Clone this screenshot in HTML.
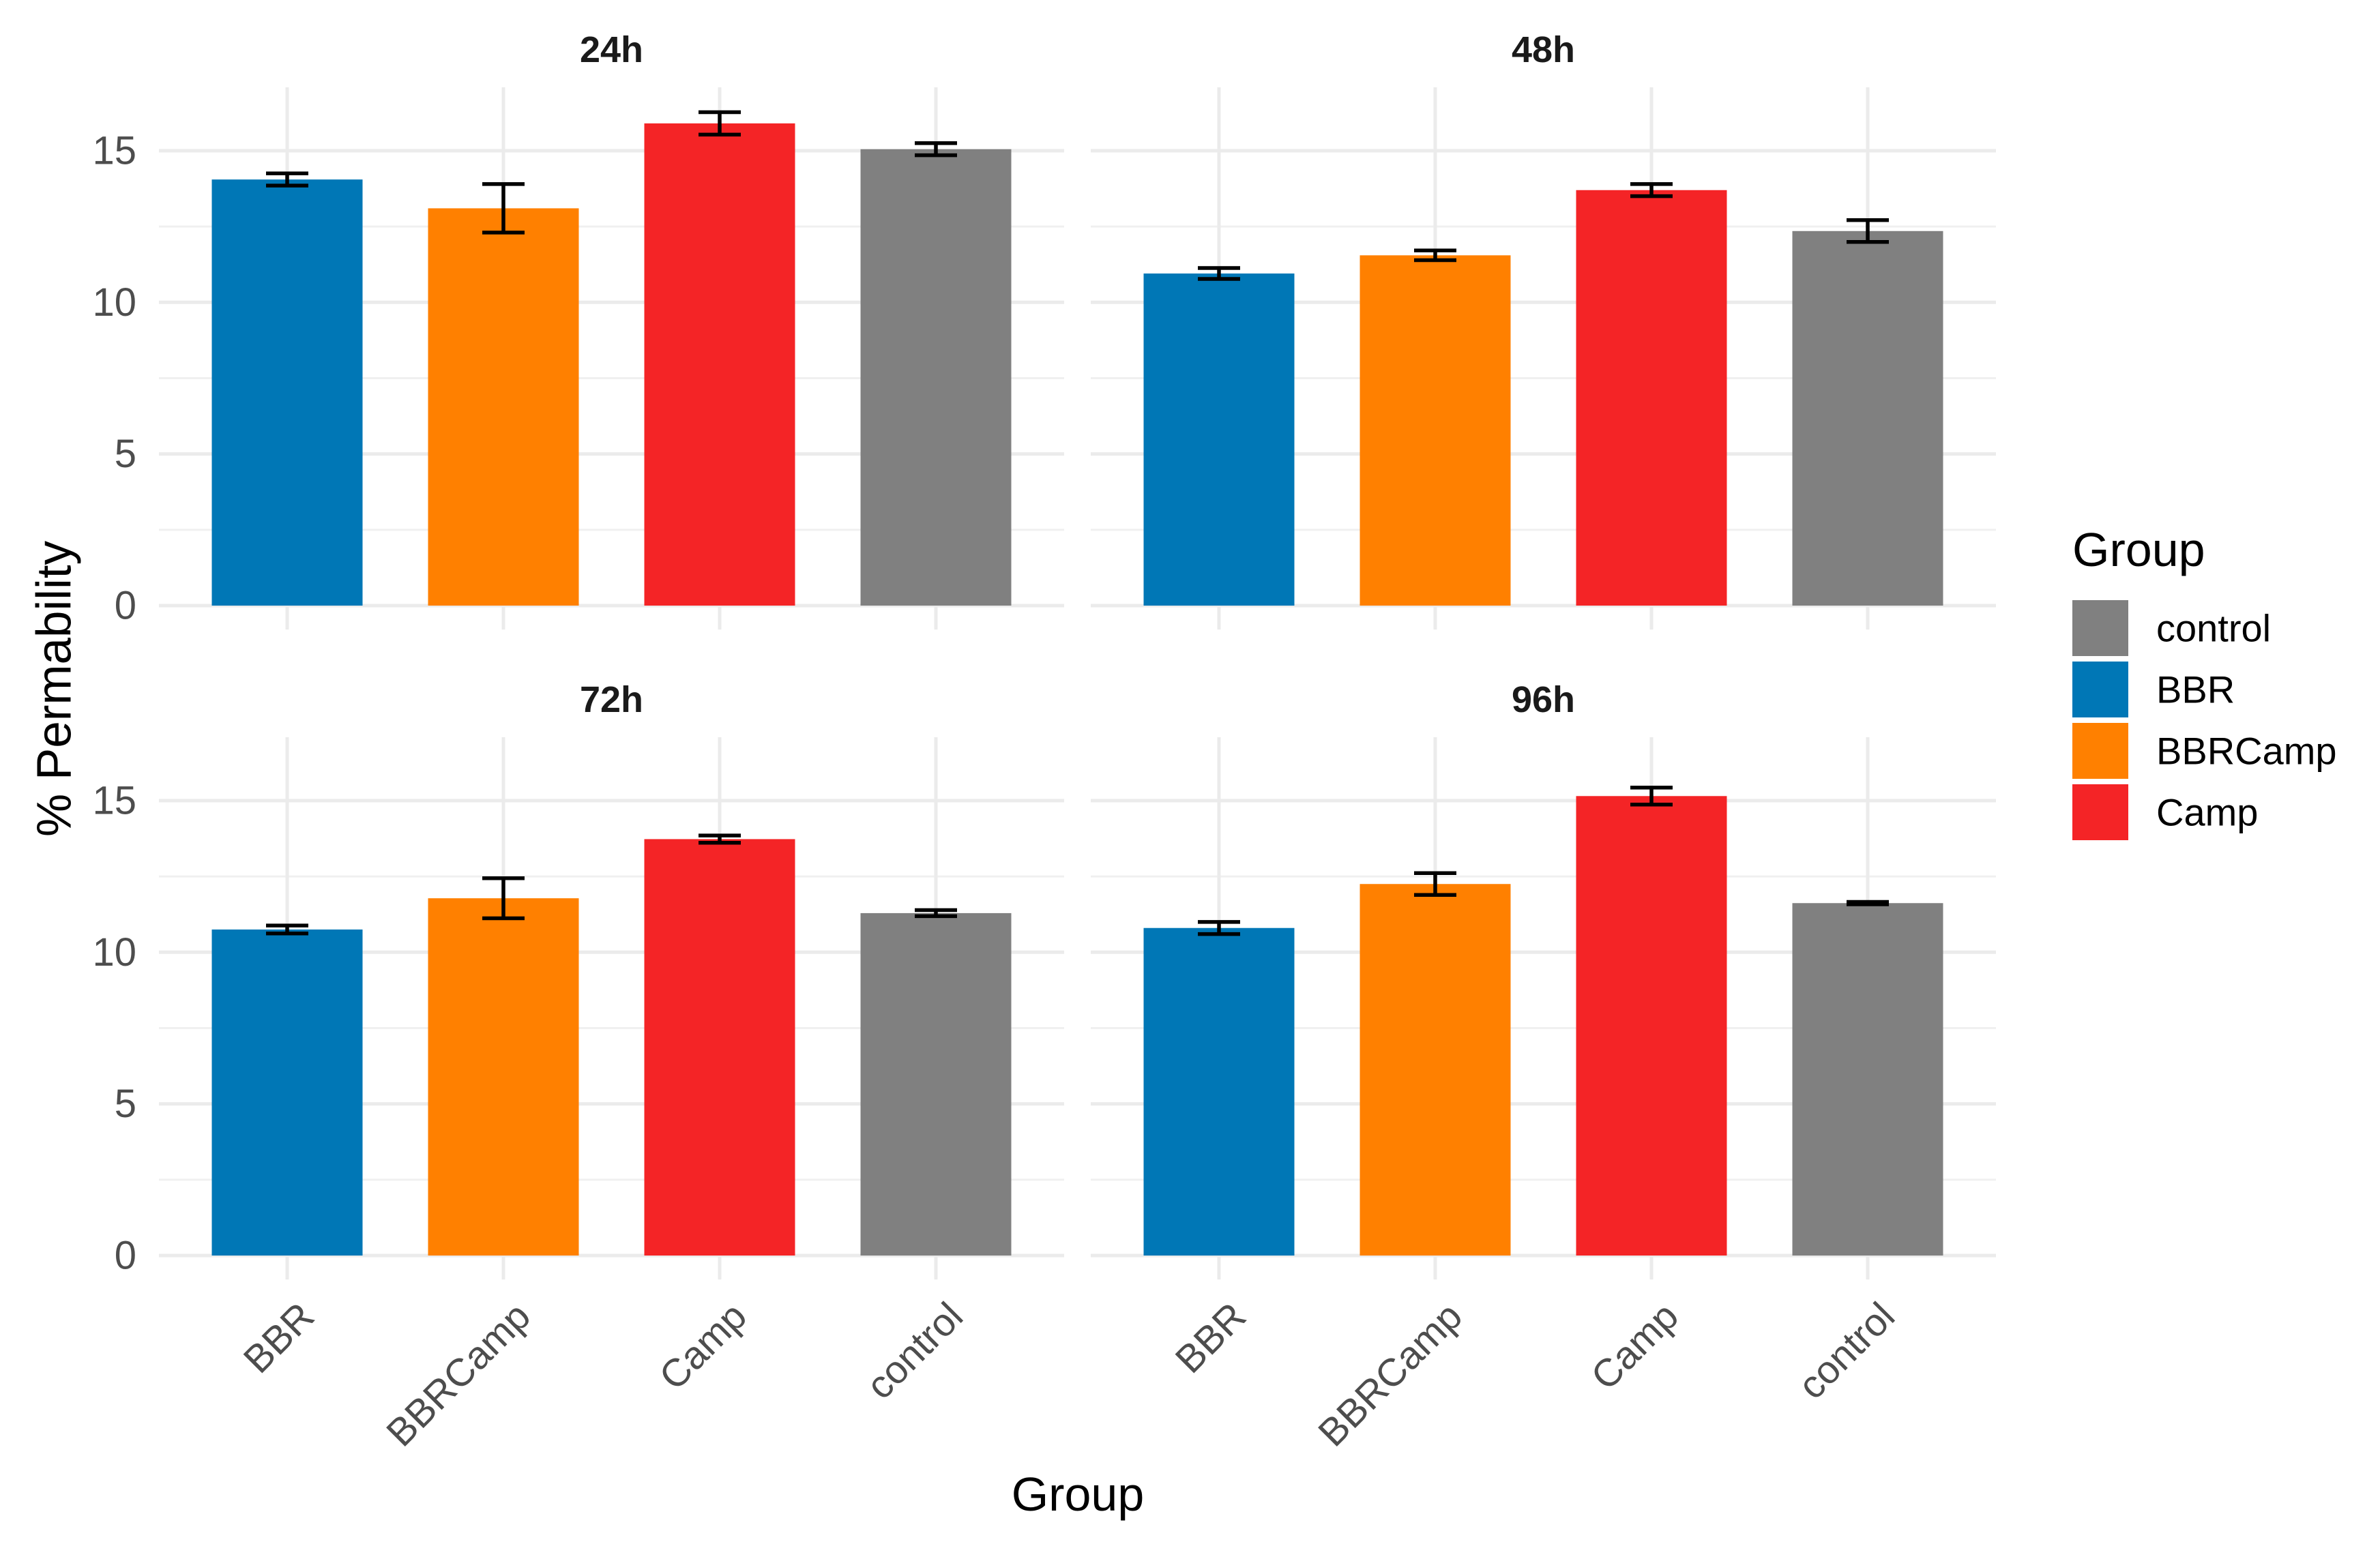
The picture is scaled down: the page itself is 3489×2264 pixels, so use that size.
<!DOCTYPE html>
<html><head><meta charset="utf-8"><style>
html,body{margin:0;padding:0;background:#fff}
svg{display:block}
text{font-family:"Liberation Sans",Arial,sans-serif}
</style></head><body>
<svg id="chart" width="3489" height="2264" viewBox="0 0 3489 2264" xmlns="http://www.w3.org/2000/svg">
<rect width="3489" height="2264" fill="#fff"/>
<g id="panels"></g>
<text x="80" y="1010" font-size="71" fill="#000" text-anchor="middle" dominant-baseline="central" transform="rotate(-90 80 1010)">% Permability</text>
<text x="1580" y="2215" font-size="70" fill="#000" text-anchor="middle">Group</text>
<g>
<text x="3038" y="830" font-size="70" fill="#000">Group</text>
<g id="legend-entries"></g>
</g>
</svg>
<script>
const categories = ["BBR", "BBRCamp", "Camp", "control"];
const facets = ["24h", "48h", "72h", "96h"];
const means24 = [14.05, 13.1, 15.9, 15.05];
const err24 = [0.2, 0.8, 0.37, 0.2];
const means48 = [10.95, 11.55, 13.7, 12.35];
const err48 = [0.18, 0.16, 0.2, 0.36];
const means72 = [10.75, 11.78, 13.73, 11.29];
const err72 = [0.13, 0.66, 0.12, 0.1];
const means96 = [10.8, 12.25, 15.15, 11.62];
const err96 = [0.2, 0.36, 0.28, 0.04];
const yTicks = [0, 5, 10, 15];
const yMinor = [2.5, 7.5, 12.5];
const legendOrder = ["control", "BBR", "BBRCamp", "Camp"];

const colors = {BBR:"#0077b6", BBRCamp:"#ff8000", Camp:"#f42426", control:"#808080"};
const allMeans = [means24, means48, means72, means96];
const allErr = [err24, err48, err72, err96];
const NS = "http://www.w3.org/2000/svg";
function mk(tag, attrs, parent){const e=document.createElementNS(NS,tag);for(const k in attrs)e.setAttribute(k,attrs[k]);parent.appendChild(e);return e;}

const panelW = 1327, step = 317, barW = 221, unit = 44.47;
const panelLefts = [233, 1599];
const zeroYs = [888, 1841];
const root = document.getElementById('panels');

facets.forEach((f, fi) => {
  const col = fi % 2, row = Math.floor(fi / 2);
  const left = panelLefts[col], right = left + panelW, cx = left + panelW / 2;
  const y0 = zeroYs[row];
  const yScale = v => y0 - v * unit;
  const xScale = i => cx + (i - 1.5) * step;
  const g = mk('g', {}, root);
  
  
  yMinor.forEach(v => {
    const l = mk('line', {x1:left, x2:right, y1:yScale(v), y2:yScale(v), stroke:'#f0f0f0', 'stroke-width':3}, g);
    
    
  });
  yTicks.forEach(v => {
    const l = mk('line', {x1:left, x2:right, y1:yScale(v), y2:yScale(v), stroke:'#ebebeb', 'stroke-width':5}, g);
    
    
  });
  categories.forEach((c, i) => {
    const l = mk('line', {x1:xScale(i), x2:xScale(i), y1:yScale(17.09), y2:yScale(-0.79), stroke:'#ebebeb', 'stroke-width':5}, g);
    
    
  });
  if (col === 0) {
    yTicks.forEach(v => {
      const t = mk('text', {x:200, y:yScale(v), 'font-size':58, fill:'#4d4d4d', 'text-anchor':'end', 'dominant-baseline':'central'}, g);
      t.textContent = v;
      
      
    });
  }
  const st = mk('text', {x:cx, y:y0 - 815, 'font-size':54, 'font-weight':'bold', fill:'#1a1a1a', 'text-anchor':'middle', 'dominant-baseline':'central'}, g);
  st.textContent = f;
  
  
  const means = allMeans[fi], errs = allErr[fi];
  categories.forEach((c, i) => {
    const x = xScale(i), m = means[i], e = errs[i];
    const b = mk('rect', {x:x - barW/2, y:yScale(m), width:barW, height:y0 - yScale(m), fill:colors[c]}, g);
    
    
    const eg = mk('g', {stroke:'#000', 'stroke-width':5.5, fill:'none'}, g);
    
    
    mk('line', {x1:x, x2:x, y1:yScale(m+e), y2:yScale(m-e)}, eg);
    mk('line', {x1:x-31, x2:x+31, y1:yScale(m+e), y2:yScale(m+e)}, eg);
    mk('line', {x1:x-31, x2:x+31, y1:yScale(m-e), y2:yScale(m-e)}, eg);
    if (row === 1) {
      const tx = x + 14, ty = 1905;
      const t = mk('text', {x:tx, y:ty, 'font-size':57, fill:'#4d4d4d', 'text-anchor':'end', 'dominant-baseline':'hanging', transform:'rotate(-45 ' + tx + ' ' + ty + ')'}, g);
      t.textContent = c;
      
      
    }
  });
});

const lg = document.getElementById('legend-entries');
legendOrder.forEach((c, i) => {
  const y = 880 + i * 90;
  const r = mk('rect', {x:3038, y:y, width:82, height:82, fill:colors[c]}, lg);
  
  
  const t = mk('text', {x:3161, y:y + 41, 'font-size':56, fill:'#000', 'dominant-baseline':'central'}, lg);
  t.textContent = c;
  
  
});
</script>
</body></html>
